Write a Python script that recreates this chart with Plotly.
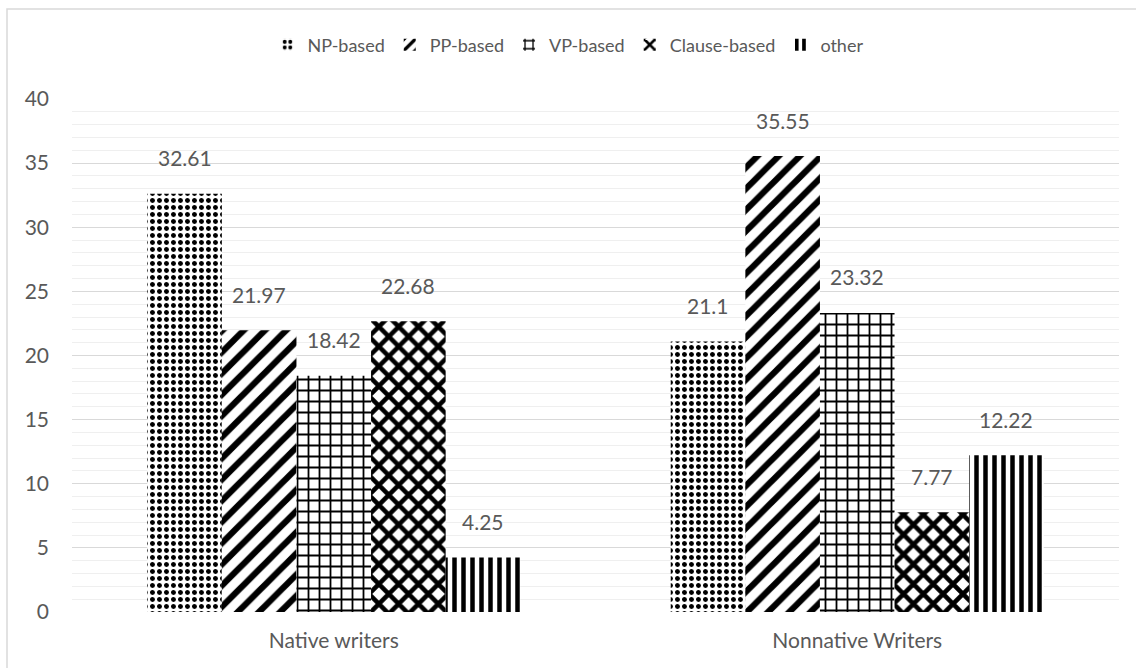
import plotly.graph_objects as go

# Share of each structure type by writer group
groups = ["Native writers", "Nonnative Writers"]
series_names = ["NP-based", "PP-based", "VP-based", "Clause-based", "other"]
np_based = [32.61, 21.1]
pp_based = [21.97, 35.55]
vp_based = [18.42, 23.32]
clause_based = [22.68, 7.77]
other = [4.25, 12.22]
series_values = [np_based, pp_based, vp_based, clause_based, other]
y_ticks = [0, 5, 10, 15, 20, 25, 30, 35, 40]

# fill patterns for each series (black on white)
patterns = [
    dict(shape=".", size=7, solidity=0.4),
    dict(shape="/", size=15, solidity=0.42),
    dict(shape="+", size=11, solidity=0.3),
    dict(shape="x", size=14, solidity=0.55),
    dict(shape="|", size=9, solidity=0.5),
]

W, H = 1136, 668
L, R, T, B = 72, 17, 99, 56
plot_w = W - L - R
bargap = 0.2875
bar_w = plot_w / 2 * (1 - bargap) / 5

text_color = "#595959"
font_family = "Lato, 'Open Sans', sans-serif"

fig = go.Figure()
for name, vals, pat in zip(series_names, series_values, patterns):
    fig.add_trace(go.Bar(
        x=groups, y=vals, name=name,
        marker=dict(
            color="white",
            line=dict(width=0),
            pattern=dict(fgcolor="black", bgcolor="white", fgopacity=1, **pat),
        ),
    ))

# value labels above each bar
annotations = []
for i, vals in enumerate(series_values):
    for g, v in zip(groups, vals):
        annotations.append(dict(
            x=g, y=v, xref="x", yref="y",
            text=f"{v:g}", showarrow=False,
            xshift=(i - 2) * bar_w, yshift=36, yanchor="middle",
            font=dict(size=21, color=text_color, family=font_family),
        ))

py_h = H - T - B
fig.update_layout(
    width=W, height=H,
    margin=dict(l=L, r=R, t=T, b=B),
    paper_bgcolor="white", plot_bgcolor="white",
    barmode="group", bargap=bargap, bargroupgap=0,
    font=dict(family=font_family, size=20, color=text_color),
    legend=dict(
        orientation="h", x=(W / 2 - L) / plot_w, xanchor="center",
        y=(py_h + T - 45) / py_h, yanchor="middle",
        font=dict(size=18, color=text_color),
        itemwidth=30, traceorder="normal",
    ),
    annotations=annotations,
    shapes=[dict(
        type="rect", xref="paper", yref="paper",
        x0=(7 - L) / plot_w, x1=(W + 10 - L) / plot_w,
        y0=-(B + 10) / py_h, y1=(H - B - 9) / py_h,
        line=dict(color="#d9d9d9", width=1.5), fillcolor="rgba(0,0,0,0)",
        layer="below",
    )],
    xaxis=dict(
        showgrid=False, showline=False, ticks="",
        tickfont=dict(size=21, color=text_color),
        ticklabelstandoff=14,
    ),
    yaxis=dict(
        range=[0, 40], tickvals=y_ticks, showline=False, zeroline=False,
        gridcolor="#d9d9d9", gridwidth=1.2,
        tickfont=dict(size=21, color=text_color),
        ticks="", ticklabelstandoff=22,
        minor=dict(dtick=1, showgrid=True, gridcolor="#efefef", gridwidth=1),
    ),
)

fig.write_html("out.html")
